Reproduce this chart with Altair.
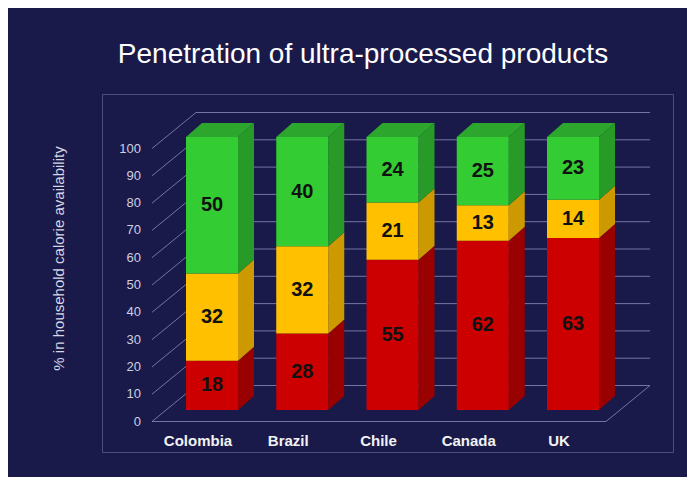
import altair as alt
import pandas as pd

# ---------------- data ----------------
countries = ["Colombia", "Brazil", "Chile", "Canada", "UK"]
red_vals = [18, 28, 55, 62, 63]       # bottom segment
yellow_vals = [32, 32, 21, 13, 14]    # middle segment
green_vals = [50, 40, 24, 25, 23]     # top segment
y_ticks = [0, 10, 20, 30, 40, 50, 60, 70, 80, 90, 100]
chart_title = "Penetration of ultra-processed products"
y_title = "% in household calorie availability"

# ---------------- layout (pixels) ----------------
FX0, FY0, FX1, FY1 = 102, 94, 673, 452   # plot frame
K = 2.73          # px per percentage unit
Y0 = 421.5        # page y of value 0 on the front plane
FLOOR_L = 152     # front-left x of floor
WALL_DX, WALL_DY = 44, 36
BAR_FIRST, BAR_STEP, BAR_W = 186, 90.25, 52
BAR_DX, BAR_DY = 16, 14
BAR_FRONT_DY = 11.5
FLOOR_R = 606
LABEL_DY = 19.5
LABEL_SHIFT = 14

FO = BAR_FRONT_DY / K
BD = BAR_DY / K
WD = WALL_DY / K

front_col = {"red": "#cc0000", "yellow": "#ffc000", "green": "#33cc33"}
side_col = {"red": "#990000", "yellow": "#cc9900", "green": "#279a27"}
top_col = "#2da62d"
grid_col = "#8585b0"

# ---------------- build geometry from the data ----------------
front_rows, side_rows, top_rows, cat_rows = [], [], [], []
for i, c in enumerate(countries):
    xl = BAR_FIRST + i * BAR_STEP
    xr = xl + BAR_W
    lo = 0
    segs = [("red", red_vals[i]), ("yellow", yellow_vals[i]), ("green", green_vals[i])]
    for name, val in segs:
        hi = lo + val
        front_rows.append(dict(x=xl, x2=xr, y=lo + FO, y2=hi + FO,
                               col=front_col[name], mid=(lo + hi) / 2 + FO,
                               xc=(xl + xr) / 2, label=str(val)))
        gid = f"{c}-{name}"
        side_rows.append(dict(x=xr, lo=lo + FO, hi=hi + FO, gid=gid, col=side_col[name]))
        side_rows.append(dict(x=xr + BAR_DX, lo=lo + FO + BD, hi=hi + FO + BD, gid=gid, col=side_col[name]))
        lo = hi
    top_rows.append(dict(y=lo + FO, xa=xl, xb=xr, gid=c))
    top_rows.append(dict(y=lo + FO + BD, xa=xl + BAR_DX, xb=xr + BAR_DX, gid=c))
    cat_rows.append(dict(x=(xl + xr) / 2 - LABEL_SHIFT, y=-LABEL_DY / K, label=c))

front_df = pd.DataFrame(front_rows)
side_df = pd.DataFrame(side_rows)
top_df = pd.DataFrame(top_rows)
cat_df = pd.DataFrame(cat_rows)

grid_rows = []
for v in y_ticks:
    grid_rows.append(dict(x=FLOOR_L, y=v, x2=FLOOR_L + WALL_DX, y2=v + WD))
    grid_rows.append(dict(x=FLOOR_L + WALL_DX, y=v + WD, x2=FLOOR_R + WALL_DX, y2=v + WD))
grid_rows.append(dict(x=FLOOR_L, y=0, x2=FLOOR_R, y2=0))
grid_rows.append(dict(x=FLOOR_R, y=0, x2=FLOOR_R + WALL_DX, y2=WD))
grid_df = pd.DataFrame(grid_rows)

tick_df = pd.DataFrame(dict(y=y_ticks, x=[141] * len(y_ticks), label=[str(t) for t in y_ticks]))

# ---------------- scales ----------------
xs = alt.Scale(domain=[FX0, FX1], nice=False, zero=False)
ys = alt.Scale(domain=[(Y0 - FY1) / K, (Y0 - FY0) / K], nice=False, zero=False)
yaxis = alt.Axis(labels=False, ticks=False, domain=False, grid=False, title=y_title,
                 titleX=58 - FX0, titleY=258 - FY0, titleAngle=270, titleAlign="center",
                 titleBaseline="middle", titleFont="Liberation Sans", titleFontSize=15,
                 titleFontWeight="normal", titleColor="#d6d6e6")


def X(f):
    return alt.X(f"{f}:Q", scale=xs, axis=None)


def Y(f):
    return alt.Y(f"{f}:Q", scale=ys, axis=yaxis)


grid = alt.Chart(grid_df).mark_rule(color=grid_col, strokeWidth=1, opacity=0.85).encode(
    x=X("x"), y=Y("y"), x2="x2:Q", y2="y2:Q")

ticks = alt.Chart(tick_df).mark_text(align="right", baseline="middle", fontSize=13,
                                     font="Liberation Sans", color="#cfcfe0").encode(
    x=X("x"), y=Y("y"), text="label:N")

fronts = alt.Chart(front_df).mark_rect().encode(
    x=X("x"), x2="x2:Q", y=Y("y"), y2="y2:Q", color=alt.Color("col:N", scale=None))

sides = alt.Chart(side_df).mark_area(orient="vertical").encode(
    x=X("x"), y=Y("lo"), y2="hi:Q", detail="gid:N", color=alt.Color("col:N", scale=None))

tops = alt.Chart(top_df).mark_area(orient="horizontal", color=top_col).encode(
    y=Y("y"), x=X("xa"), x2="xb:Q", detail="gid:N")

values = alt.Chart(front_df).mark_text(align="center", baseline="middle", fontSize=20,
                                       fontWeight="bold", font="Liberation Sans",
                                       color="#111111").encode(
    x=X("xc"), y=Y("mid"), text="label:N")

cats = alt.Chart(cat_df).mark_text(align="center", baseline="middle", fontSize=15,
                                   fontWeight="bold", font="Liberation Sans",
                                   color="#f2f2f2").encode(
    x=X("x"), y=Y("y"), text="label:N")

chart = alt.layer(grid, ticks, sides, tops, fronts, values, cats).properties(
    width=FX1 - FX0,
    height=FY1 - FY0,
    autosize="none",
    padding={"left": FX0 - 8, "top": FY0 - 8, "right": 687 - FX1, "bottom": 477 - FY1},
    background="#1a1a4a",
    title=alt.TitleParams(text=chart_title, fontSize=28, font="Liberation Sans",
                          fontWeight="normal", color="#ffffff", anchor="middle",
                          frame="group", dx=363 - (FX0 + FX1) / 2, dy=28,
                          baseline="bottom", offset=25),
).configure_view(stroke="#4c4c80", strokeWidth=1)

chart.save("out.html", embed_options={"renderer": "svg", "actions": False})
